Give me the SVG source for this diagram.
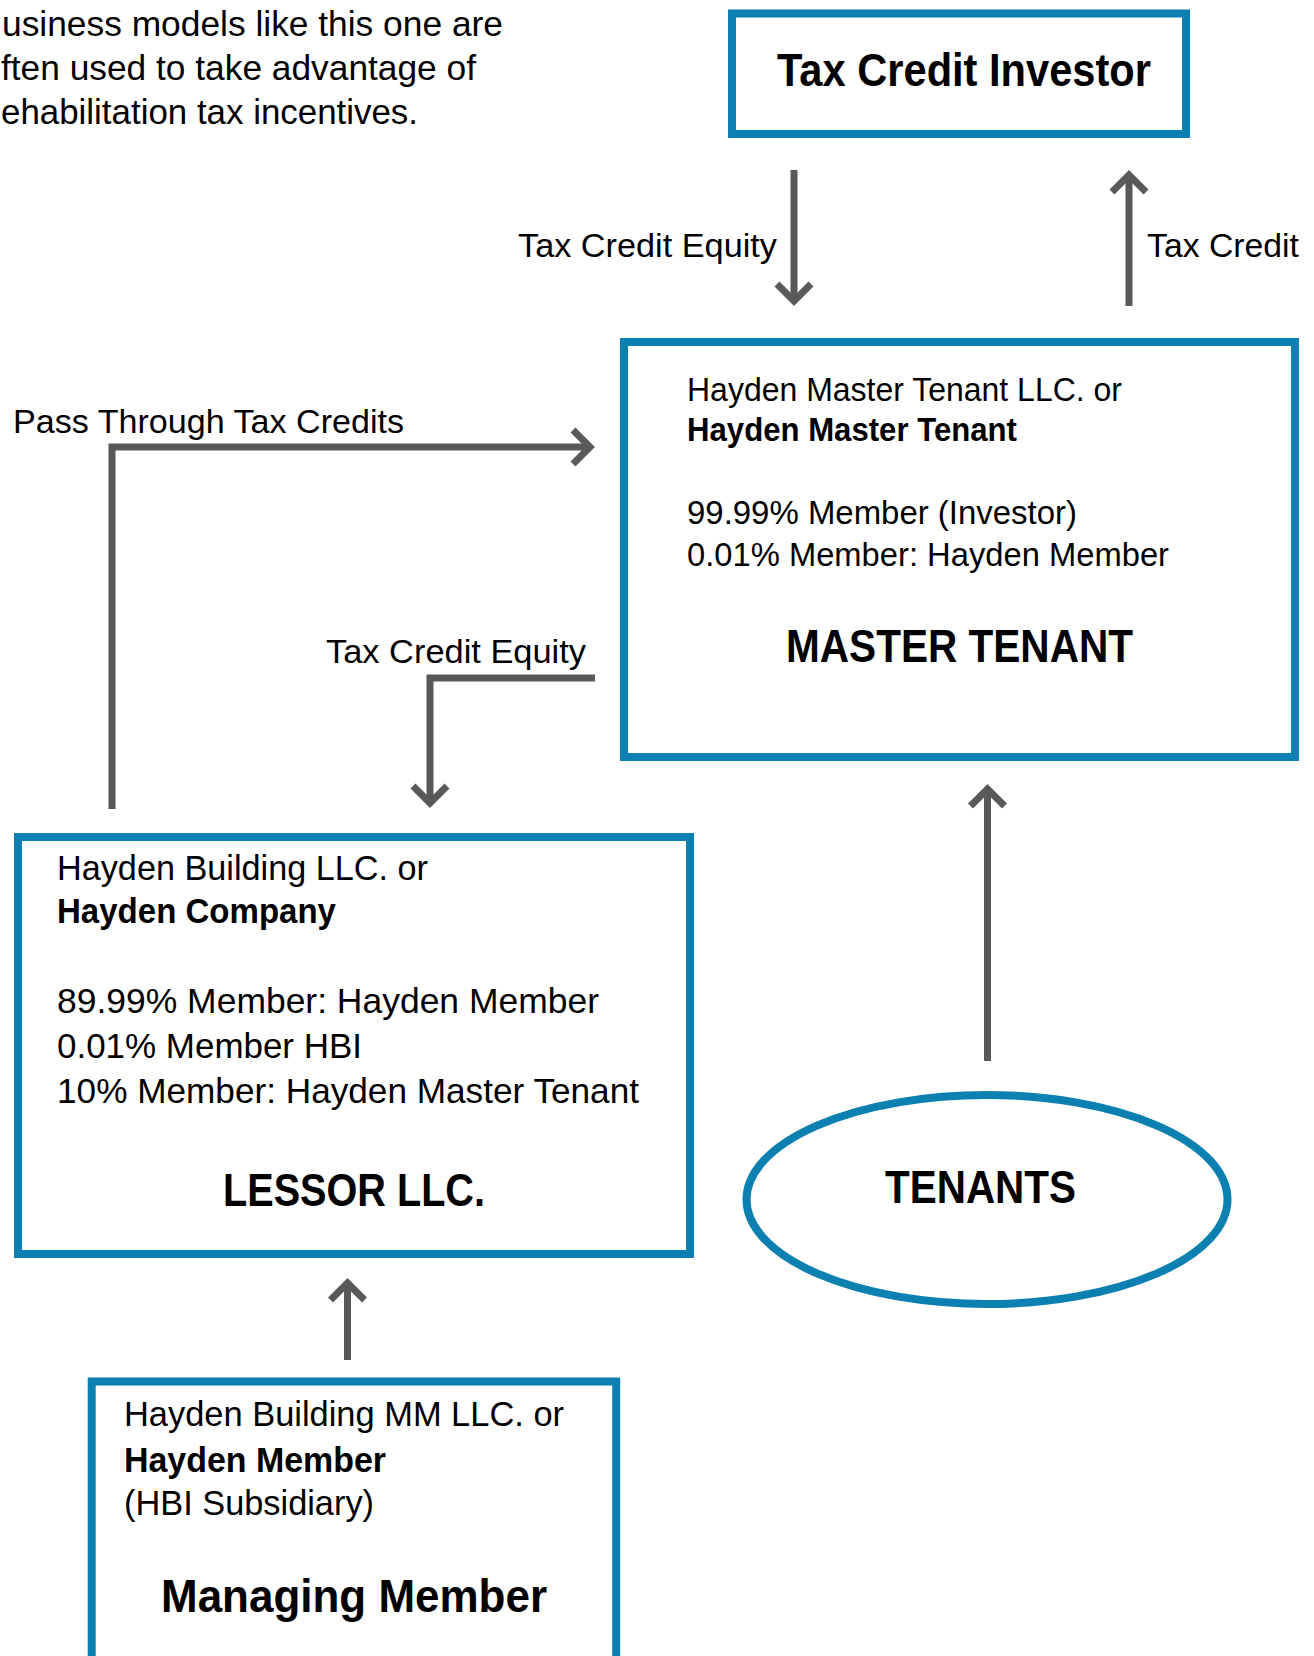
<svg xmlns="http://www.w3.org/2000/svg" width="1314" height="1656" viewBox="0 0 1314 1656">
<style>
  text { font-family: "Liberation Sans", Arial, sans-serif; fill: #000; }
  .box { fill: #fff; stroke: #0B80B1; stroke-width: 8; }
  .conn { fill: none; stroke: #58595B; stroke-width: 7; stroke-linejoin: miter; stroke-linecap: butt; }
  .intro { font-size: 35px; }
  .lbl { font-size: 33.5px; }
  .b { font-weight: bold; }
  .title { font-weight: bold; font-size: 46px; }
</style>
<defs>
  <marker id="chev" markerUnits="userSpaceOnUse" markerWidth="60" markerHeight="60" viewBox="-30 -30 60 60" refX="0" refY="0" orient="auto" overflow="visible">
    <path d="M-17,-17 L0,0 L-17,17" fill="none" stroke="#58595B" stroke-width="7" stroke-linejoin="miter" stroke-linecap="butt"/>
  </marker>
</defs>
<rect width="1314" height="1656" fill="#fff"/>

<g id="intro">
  <text class="intro" x="2" y="36" textLength="501" lengthAdjust="spacingAndGlyphs">usiness models like this one are</text>
  <text class="intro" x="1" y="80" textLength="475" lengthAdjust="spacingAndGlyphs">ften used to take advantage of</text>
  <text class="intro" x="1" y="124" textLength="417" lengthAdjust="spacingAndGlyphs">ehabilitation tax incentives.</text>
</g>

<g id="connectors">
  <path class="conn" d="M794,170 L794,301" marker-end="url(#chev)"/>
  <path class="conn" d="M1129,306 L1129,175" marker-end="url(#chev)"/>
  <path class="conn" d="M112,809 L112,447 L590,447" marker-end="url(#chev)"/>
  <path class="conn" d="M595,678 L430,678 L430,803" marker-end="url(#chev)"/>
  <path class="conn" d="M987.5,1061 L987.5,789" marker-end="url(#chev)"/>
  <path class="conn" d="M347.5,1360 L347.5,1283" marker-end="url(#chev)"/>
  <text class="lbl" x="518" y="257" textLength="259" lengthAdjust="spacingAndGlyphs">Tax Credit Equity</text>
  <text class="lbl" x="1147" y="257" textLength="152" lengthAdjust="spacingAndGlyphs">Tax Credit</text>
  <text class="lbl" x="13" y="433" textLength="391" lengthAdjust="spacingAndGlyphs">Pass Through Tax Credits</text>
  <text class="lbl" x="326" y="663" textLength="260" lengthAdjust="spacingAndGlyphs">Tax Credit Equity</text>
</g>

<g id="investor">
  <rect class="box" x="732" y="13.5" width="454" height="120.5"/>
  <text class="title" x="777" y="86" textLength="374" lengthAdjust="spacingAndGlyphs">Tax Credit Investor</text>
</g>

<g id="master-tenant">
  <rect class="box" x="624" y="342" width="671" height="415"/>
  <text x="687" y="401" font-size="33" textLength="435" lengthAdjust="spacingAndGlyphs">Hayden Master Tenant LLC. or</text>
  <text class="b" x="687" y="441" font-size="33" textLength="330" lengthAdjust="spacingAndGlyphs">Hayden Master Tenant</text>
  <text x="687" y="524" font-size="33" textLength="390" lengthAdjust="spacingAndGlyphs">99.99% Member (Investor)</text>
  <text x="687" y="566" font-size="33" textLength="482" lengthAdjust="spacingAndGlyphs">0.01% Member: Hayden Member</text>
  <text class="title" x="786" y="662" font-size="45" textLength="347" lengthAdjust="spacingAndGlyphs">MASTER TENANT</text>
</g>

<g id="lessor">
  <rect class="box" x="18" y="837" width="672" height="417"/>
  <text x="57" y="880" font-size="35" textLength="371" lengthAdjust="spacingAndGlyphs">Hayden Building LLC. or</text>
  <text class="b" x="57" y="923" font-size="35" textLength="279" lengthAdjust="spacingAndGlyphs">Hayden Company</text>
  <text x="57" y="1013" font-size="35" textLength="542" lengthAdjust="spacingAndGlyphs">89.99% Member: Hayden Member</text>
  <text x="57" y="1058" font-size="35" textLength="305" lengthAdjust="spacingAndGlyphs">0.01% Member HBI</text>
  <text x="57" y="1103" font-size="35" textLength="582" lengthAdjust="spacingAndGlyphs">10% Member: Hayden Master Tenant</text>
  <text class="title" x="223" y="1206" textLength="262" lengthAdjust="spacingAndGlyphs">LESSOR LLC.</text>
</g>

<g id="tenants">
  <ellipse cx="987" cy="1199.5" rx="240.5" ry="104.5" fill="#fff" stroke="#0B80B1" stroke-width="8"/>
  <text class="title" x="885" y="1203" font-size="45" textLength="191" lengthAdjust="spacingAndGlyphs">TENANTS</text>
</g>

<g id="managing-member">
  <rect class="box" x="91.7" y="1381.5" width="524.5" height="340"/>
  <text x="124" y="1426" font-size="34.5" textLength="440" lengthAdjust="spacingAndGlyphs">Hayden Building MM LLC. or</text>
  <text class="b" x="124" y="1472" font-size="34.5" textLength="262" lengthAdjust="spacingAndGlyphs">Hayden Member</text>
  <text x="124" y="1515" font-size="34.5" textLength="250" lengthAdjust="spacingAndGlyphs">(HBI Subsidiary)</text>
  <text class="title" x="161" y="1612" font-size="47" textLength="386" lengthAdjust="spacingAndGlyphs">Managing Member</text>
</g>
</svg>
